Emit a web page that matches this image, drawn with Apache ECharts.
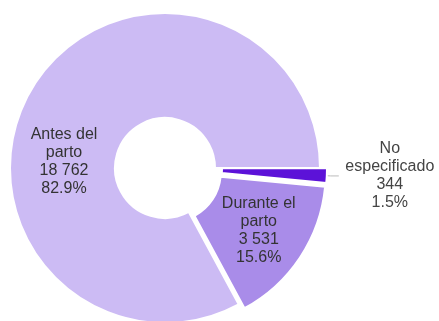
<!DOCTYPE html>
<html>
<head>
<meta charset="utf-8">
<script src="https://cdn.jsdelivr.net/npm/echarts@6/dist/echarts.min.js"></script>
<style>html,body{margin:0;padding:0;background:#fff}#c{width:439px;height:321px}</style>
</head>
<body>
<div id="c"></div>
<script>
const categories = ['Antes del\nparto', 'Durante el\nparto', 'No\nespecificado'];
const values = [18762, 3531, 344];
const percents = ['82.9%', '15.6%', '1.5%'];
const valueLabels = ['18 762', '3 531', '344'];
const colors = ['#ccbbf4', '#a98ce9', '#5c12d8'];

const chart = echarts.init(document.getElementById('c'), null, {renderer: 'canvas'});
const lines = i => (categories[i] + '\n' + valueLabels[i] + '\n' + percents[i]).split('\n');
const data = categories.map((c, i) => ({
  name: c,
  value: values[i],
  selected: i > 0,
  itemStyle: {color: colors[i]},
  label: i === 2
    ? {position: 'outside', alignTo: 'none', color: '#444',
       formatter: p => lines(p.dataIndex).map(s => '{c|' + s + '}').join('\n'),
       rich: {c: {width: 92, align: 'center', fontSize: 16, lineHeight: 18, color: '#444',
                  fontFamily: 'Liberation Sans, Arial, sans-serif'}}}
    : {position: 'inside'},
  labelLine: {show: i === 2}
}));
chart.setOption({
  animation: false,
  series: [{
    type: 'pie',
    center: [165, 168],
    radius: [50, 155],
    startAngle: 0,
    clockwise: false,
    selectedMode: 'multiple',
    selectedOffset: 7,
    avoidLabelOverlap: false,
    itemStyle: {borderColor: '#fff', borderWidth: 2},
    label: {
      show: true,
      fontFamily: 'Liberation Sans, Arial, sans-serif',
      fontSize: 16,
      lineHeight: 18,
      color: '#333',
      align: 'center',
      formatter: p => lines(p.dataIndex).join('\n')
    },
    labelLine: {length: 4, length2: 8, lineStyle: {color: '#bbb', width: 1}},
    labelLayout: function (p) {
      if (p.dataIndex === 0) return {x: 64, y: 162, align: 'center', verticalAlign: 'middle'};
      if (p.dataIndex === 1) return {x: 262, y: 230, align: 'center', verticalAlign: 'middle'};
      return {};
    },
    data: data
  }]
});
</script>
</body>
</html>
